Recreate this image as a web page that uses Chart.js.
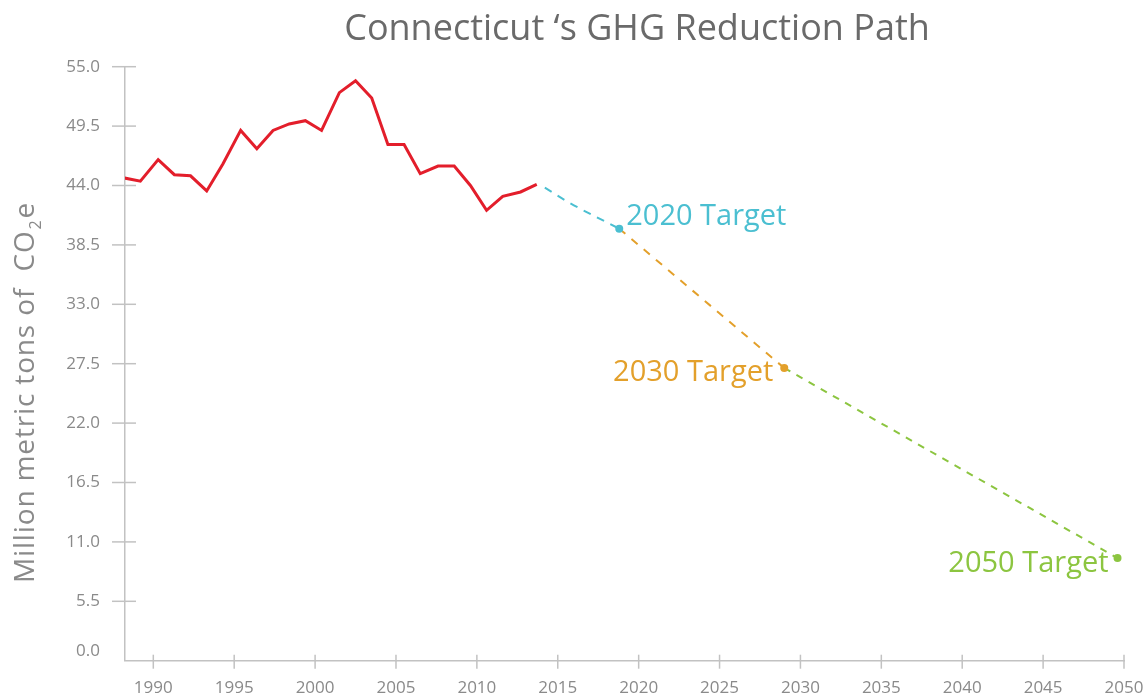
<!DOCTYPE html>
<html>
<head>
<meta charset="utf-8">
<script src="https://cdn.jsdelivr.net/npm/chart.js@4.4.1/dist/chart.umd.min.js"></script>
<style>
  body { margin: 0; background: #fff; }
  #wrap { width: 1144px; height: 694px; }
</style>
</head>
<body>
<div id="wrap"><canvas id="ghgChart"></canvas></div>
<script>
// historic emissions (x in years, y in Mt CO2e)
const histYears = [1988.2, 1989.2, 1990.3, 1991.3, 1992.3, 1993.3, 1994.3, 1995.4, 1996.4, 1997.4,
                   1998.4, 1999.4, 2000.4, 2001.5, 2002.5, 2003.5, 2004.5, 2005.5, 2006.5, 2007.6,
                   2008.6, 2009.6, 2010.6, 2011.6, 2012.7, 2013.7];
const histValues = [44.7, 44.4, 46.4, 45.0, 44.9, 43.5, 46.0, 49.1, 47.4, 49.1,
                    49.7, 50.0, 49.1, 52.6, 53.7, 52.1, 47.8, 47.8, 45.1, 45.8,
                    45.8, 44.0, 41.7, 43.0, 43.4, 44.1];

// short curved bridge from the last inventory year to the 2020 target
const bridgeYears = [2014.2, 2015.6];
const bridgeValues = [43.8, 42.5];

// the three targets
const targetNames = ["2020 Target", "2030 Target", "2050 Target"];
const targetYears = [2018.8, 2029.0, 2049.6];
const targetValues = [40.0, 27.1, 9.5];
const targetColors = ["#4bbfd1", "#e3a02b", "#8cc540"];

// axis ticks
const xTickYears = [1990, 1995, 2000, 2005, 2010, 2015, 2020, 2025, 2030, 2035, 2040, 2045, 2050];
const yTickValues = [0, 5.5, 11, 16.5, 22, 27.5, 33, 38.5, 44, 49.5, 55];

const titleText = "Connecticut \u2018s GHG Reduction Path";
const yTitleMain = "Million metric tons of  CO";
const yTitleSub = "2";
const yTitleEnd = "e";

const greyText = "#8a8a8a";
const axisGrey = "#c2c2c2";
const font = "'Open Sans', sans-serif";

const pts = (xs, ys) => xs.map((x, i) => ({ x, y: ys[i] }));

const extras = {
    id: "extras",
    afterDraw(c) {
        const ctx = c.ctx, xs = c.scales.x, ys = c.scales.y, area = c.chartArea;
        ctx.save();

        // title
        ctx.fillStyle = "#6a6a6a";
        ctx.font = "36px " + font;
        ctx.textAlign = "center";
        ctx.textBaseline = "alphabetic";
        ctx.fillText(titleText, 637, 40);

        // tick marks that cross the axis lines
        ctx.strokeStyle = axisGrey;
        ctx.lineWidth = 1.5;
        ys.ticks.forEach(t => {
            if (t.value === 0) return;
            const py = ys.getPixelForValue(t.value);
            ctx.beginPath();
            ctx.moveTo(area.left - 13, py);
            ctx.lineTo(area.left + 11, py);
            ctx.stroke();
        });
        xs.ticks.forEach(t => {
            const px = xs.getPixelForValue(t.value);
            ctx.beginPath();
            ctx.moveTo(px, area.bottom - 6);
            ctx.lineTo(px, area.bottom + 8);
            ctx.stroke();
        });

        // the 0.0 label sits a little above the axis in the original
        ctx.fillStyle = greyText;
        ctx.font = "17px " + font;
        ctx.textAlign = "right";
        ctx.textBaseline = "middle";
        ctx.fillText("0.0", area.left - 25, area.bottom - 10);

        // target labels
        ctx.font = "29px " + font;
        const place = [
            { align: "left", dx: 7, dy: -12 },
            { align: "right", dx: -11, dy: 5 },
            { align: "right", dx: -9, dy: 6 }
        ];
        targetNames.forEach((name, i) => {
            const px = xs.getPixelForValue(targetYears[i]);
            const py = ys.getPixelForValue(targetValues[i]);
            ctx.fillStyle = targetColors[i];
            ctx.textAlign = place[i].align;
            ctx.fillText(name, px + place[i].dx, py + place[i].dy);
        });

        // rotated y axis title with subscript
        ctx.translate(34, 583);
        ctx.rotate(-Math.PI / 2);
        ctx.fillStyle = greyText;
        ctx.textAlign = "left";
        ctx.textBaseline = "alphabetic";
        ctx.letterSpacing = "0.85px";
        ctx.font = "28px " + font;
        ctx.fillText(yTitleMain, 0, 0);
        let w = ctx.measureText(yTitleMain).width;
        ctx.font = "16px " + font;
        ctx.fillText(yTitleSub, w + 1, 7);
        w += ctx.measureText(yTitleSub).width + 2;
        ctx.font = "28px " + font;
        ctx.fillText(yTitleEnd, w, 0);

        ctx.restore();
    }
};

new Chart(document.getElementById("ghgChart"), {
    type: "line",
    data: {
        datasets: [
            {
                data: pts([...bridgeYears, targetYears[0]], [...bridgeValues, targetValues[0]]),
                borderColor: targetColors[0],
                backgroundColor: targetColors[0],
                borderWidth: 2,
                borderDash: [8, 7],
                cubicInterpolationMode: "monotone",
                pointRadius: [0, 0, 4],
                pointBorderWidth: 0
            },
            {
                data: pts(targetYears.slice(0, 2), targetValues.slice(0, 2)),
                borderColor: targetColors[1],
                backgroundColor: targetColors[1],
                borderWidth: 2,
                borderDash: [8, 8],
                pointRadius: [0, 4],
                pointBorderWidth: 0
            },
            {
                data: pts(targetYears.slice(1), targetValues.slice(1)),
                borderColor: targetColors[2],
                backgroundColor: targetColors[2],
                borderWidth: 2,
                borderDash: [7, 7],
                pointRadius: [0, 4],
                pointBorderWidth: 0
            },
            {
                data: pts(histYears, histValues),
                borderColor: "#e31e2b",
                borderWidth: 3,
                pointRadius: 0,
                tension: 0
            }
        ]
    },
    options: {
        responsive: true,
        maintainAspectRatio: false,
        animation: false,
        layout: { padding: { left: 0, right: 20, top: 66.7, bottom: 0 } },
        plugins: {
            legend: { display: false },
            tooltip: { enabled: false },
            title: { display: false }
        },
        scales: {
            x: {
                type: "linear",
                min: 1988.25,
                max: 2050,
                afterBuildTicks: s => { s.ticks = xTickYears.map(v => ({ value: v })); },
                afterFit: s => { s.height = 33.3; s.paddingLeft = 0; s.paddingRight = 0; },
                grid: { drawOnChartArea: false, drawTicks: false },
                border: { color: axisGrey, width: 1.5 },
                ticks: {
                    color: greyText,
                    font: { family: font, size: 17 },
                    padding: 17,
                    maxRotation: 0,
                    callback: v => String(v)
                }
            },
            y: {
                min: 0,
                max: 55,
                afterBuildTicks: s => { s.ticks = yTickValues.map(v => ({ value: v })); },
                afterFit: s => { s.width = 125; s.paddingTop = 0; s.paddingBottom = 0; },
                grid: { drawOnChartArea: false, drawTicks: false },
                border: { color: axisGrey, width: 1.5 },
                ticks: {
                    color: greyText,
                    font: { family: font, size: 17 },
                    padding: 25,
                    callback: v => (v === 0 ? "" : v.toFixed(1))
                }
            }
        }
    },
    plugins: [extras]
});
</script>
</body>
</html>
